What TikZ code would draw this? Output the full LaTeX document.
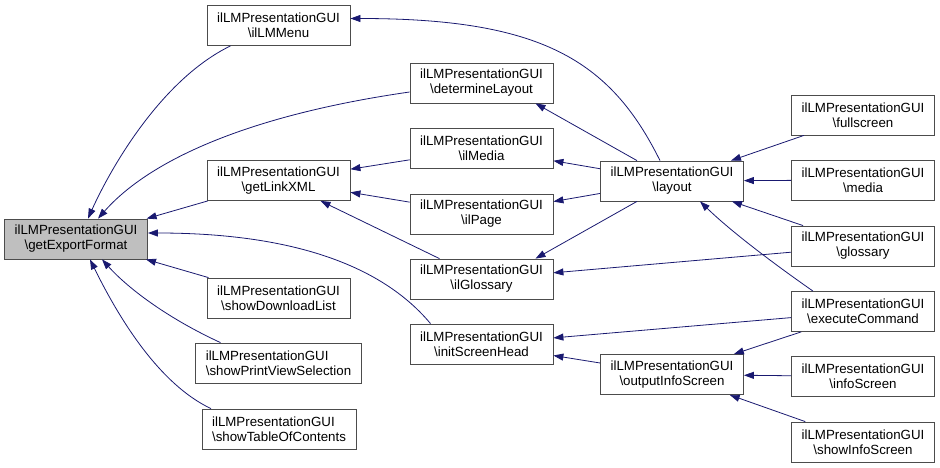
\documentclass[tikz,border=0pt]{standalone}
\usepackage{fontspec}
\setmainfont{Liberation Sans}
\usepackage{tikz}
\usetikzlibrary{arrows.meta}
\definecolor{midnight}{HTML}{191970}
\newcommand{\fname}[1]{ilLMPresentationGUI\\\textbackslash #1}

\begin{document}
\begin{tikzpicture}[x=1pt, y=-1pt,
        fn/.style={draw=black!70, fill=white, line width=0.8pt, align=center, minimum width=143pt, minimum height=40pt, inner xsep=10pt, inner ysep=2pt, font=\fontsize{13.3}{15}\selectfont},
        calls/.style={midnight, line width=0.8pt, -{Triangle[length=10pt, width=7pt, fill=midnight]}}]
    \useasboundingbox (0,0) rectangle (940,468);
    % column 1
    \node [fn, fill=black!25] (export) at (76,239) {\fname{getExportFormat}};
    % column 2
    \node [fn] (menu) at (278.5,25.5) {\fname{ilLMMenu}};
    \node [fn] (linkxml) at (278.5,180.5) {\fname{getLinkXML}};
    \node [fn] (download) at (278.5,298) {\fname{showDownloadList}};
    \node [fn, align=left] (printview) at (278.5,363) {\fname{showPrintViewSelection}};
    \node [fn, align=left] (toc) at (279,429) {\fname{showTableOfContents}};
    % column 3
    \node [fn] (detlayout) at (481.5,83) {\fname{determineLayout}};
    \node [fn] (ilmedia) at (481.5,148.5) {\fname{ilMedia}};
    \node [fn] (ilpage) at (481.5,214) {\fname{ilPage}};
    \node [fn] (ilglossary) at (481.5,279) {\fname{ilGlossary}};
    \node [fn] (initscreen) at (481.5,344) {\fname{initScreenHead}};
    % column 4
    \node [fn] (layout) at (672,181) {\fname{layout}};
    \node [fn] (outinfo) at (672,374.5) {\fname{outputInfoScreen}};
    % column 5
    \node [fn] (fullscreen) at (863,115) {\fname{fullscreen}};
    \node [fn] (media) at (863,180) {\fname{media}};
    \node [fn] (glossary) at (863,246) {\fname{glossary}};
    \node [fn] (execcmd) at (863,311.5) {\fname{executeCommand}};
    \node [fn] (infoscreen) at (863,376.5) {\fname{infoScreen}};
    \node [fn] (showinfo) at (863,442) {\fname{showInfoScreen}};

    % callers of getExportFormat
    \draw [calls] ([xshift=-48pt]menu.south) .. controls +(-70,34) and +(22,-49) .. ([xshift=12pt]export.north);
    \draw [calls] ([yshift=-9pt]detlayout.west) .. controls +(-160,23) and +(52,-59) .. ([xshift=22pt]export.north);
    \draw [calls] (linkxml) -- (export);
    \draw [calls] ([xshift=-51pt]initscreen.north) .. controls +(-45,-54) and +(153,0) .. ([yshift=6pt]export.east);
    \draw [calls] (download) -- (export);
    \draw [calls] ([xshift=-58pt]printview.north) .. controls +(-50,-23) and +(28,31) .. ([xshift=26pt]export.south);
    \draw [calls] ([xshift=-68pt]toc.north) .. controls +(-51,-24) and +(30,61) .. ([xshift=14pt]export.south);
    % callers of getLinkXML
    \draw [calls] (ilmedia) -- (linkxml);
    \draw [calls] (ilpage) -- (linkxml);
    \draw [calls] (ilglossary) -- (linkxml);
    % layout
    \draw [calls] ([xshift=-12pt]layout.north) .. controls +(-50,-101) and +(190,0) .. ([yshift=7pt]menu.east);
    \draw [calls] ([xshift=-35pt]layout.north) -- ([xshift=54pt]detlayout.south);
    \draw [calls] (layout) -- (ilmedia);
    \draw [calls] (layout) -- (ilpage);
    \draw [calls] ([xshift=-35pt]layout.south) -- ([xshift=54pt]ilglossary.north);
    \draw [calls] (glossary) -- (ilglossary);
    \draw [calls] (fullscreen) -- (layout);
    \draw [calls] (media) -- (layout);
    \draw [calls] (glossary) -- (layout);
    \draw [calls] ([xshift=-50pt]execcmd.north) .. controls +(-43,-30) and +(30,29) .. ([xshift=28pt]layout.south);
    % initScreenHead, outputInfoScreen
    \draw [calls] (execcmd) -- (initscreen);
    \draw [calls] (outinfo) -- (initscreen);
    \draw [calls] (execcmd) -- (outinfo);
    \draw [calls] (infoscreen) -- (outinfo);
    \draw [calls] (showinfo) -- (outinfo);
\end{tikzpicture}
\end{document}
